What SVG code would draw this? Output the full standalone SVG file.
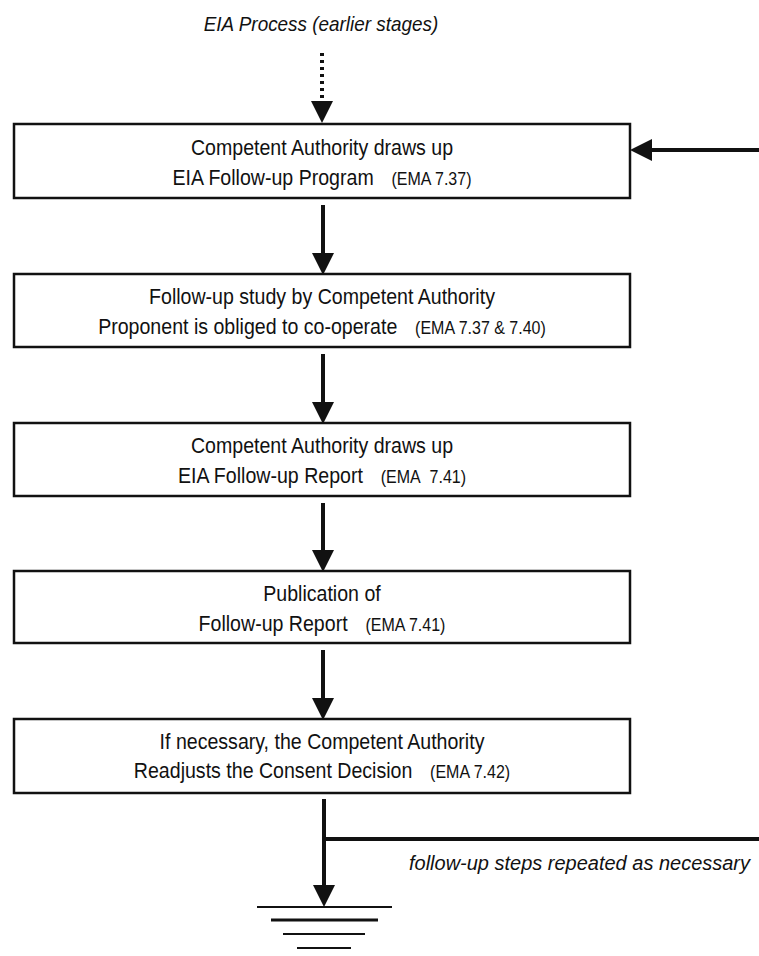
<svg xmlns="http://www.w3.org/2000/svg" width="759" height="956" viewBox="0 0 759 956">
  <style>
    .box { fill: #ffffff; stroke: #111111; stroke-width: 2.5; }
    .t { font-family: "Liberation Sans", Arial, sans-serif; font-size: 22px; fill: #111111; text-anchor: middle; }
    .ema { font-size: 18px; }
    .it { font-family: "Liberation Sans", Arial, sans-serif; font-style: italic; fill: #111111; }
    .conn { stroke: #111111; stroke-width: 4; fill: none; }
    .dot { stroke: #111111; stroke-width: 4; fill: none; stroke-dasharray: 3 4; }
    .gnd { stroke: #111111; fill: none; }
  </style>
  <defs>
    <marker id="ah" markerUnits="userSpaceOnUse" markerWidth="22" markerHeight="24" viewBox="0 -11 21 22" refX="0" refY="0" orient="auto">
      <path d="M0,-10.5 L21,0 L0,10.5 z" fill="#111111"/>
    </marker>
  </defs>
  <rect width="759" height="956" fill="#ffffff"/>

  <g id="title">
    <text class="it" font-size="21" transform="translate(321 0) scale(0.9 1)" x="0" y="31" text-anchor="middle">EIA Process (earlier stages)</text>
  </g>

  <g id="connectors">
    <line class="dot" x1="322" y1="53" x2="322" y2="101" marker-end="url(#ah)"/>
    <line class="conn" x1="759" y1="150" x2="652" y2="150" marker-end="url(#ah)"/>
    <line class="conn" x1="323" y1="205" x2="323" y2="253" marker-end="url(#ah)"/>
    <line class="conn" x1="323" y1="354" x2="323" y2="402" marker-end="url(#ah)"/>
    <line class="conn" x1="323" y1="503" x2="323" y2="550" marker-end="url(#ah)"/>
    <line class="conn" x1="323" y1="650" x2="323" y2="698" marker-end="url(#ah)"/>
    <line class="conn" x1="324" y1="799" x2="324" y2="885" marker-end="url(#ah)"/>
    <line class="conn" x1="322" y1="839" x2="759" y2="839"/>
  </g>

  <g id="node1">
    <rect class="box" x="14" y="124" width="616" height="74"/>
    <text class="t" transform="translate(322 0) scale(0.89 1)" x="0" y="155">Competent Authority draws up</text>
    <text class="t" transform="translate(322 0) scale(0.89 1)" x="0" y="185">EIA Follow-up Program<tspan class="ema" dx="20">(EMA 7.37)</tspan></text>
  </g>

  <g id="node2">
    <rect class="box" x="14" y="274" width="616" height="73"/>
    <text class="t" transform="translate(322 0) scale(0.89 1)" x="0" y="304">Follow-up study by Competent Authority</text>
    <text class="t" transform="translate(322 0) scale(0.89 1)" x="0" y="334">Proponent is obliged to co-operate<tspan class="ema" dx="20">(EMA 7.37 &amp; 7.40)</tspan></text>
  </g>

  <g id="node3">
    <rect class="box" x="14" y="423" width="616" height="73"/>
    <text class="t" transform="translate(322 0) scale(0.89 1)" x="0" y="453">Competent Authority draws up</text>
    <text class="t" transform="translate(322 0) scale(0.89 1)" x="0" y="483">EIA Follow-up Report<tspan class="ema" dx="20">(EMA</tspan><tspan class="ema" dx="10">7.41)</tspan></text>
  </g>

  <g id="node4">
    <rect class="box" x="14" y="571" width="616" height="72"/>
    <text class="t" transform="translate(322 0) scale(0.89 1)" x="0" y="601">Publication of</text>
    <text class="t" transform="translate(322 0) scale(0.89 1)" x="0" y="631">Follow-up Report<tspan class="ema" dx="20">(EMA 7.41)</tspan></text>
  </g>

  <g id="node5">
    <rect class="box" x="14" y="719" width="616" height="74"/>
    <text class="t" transform="translate(322 0) scale(0.89 1)" x="0" y="749">If necessary, the Competent Authority</text>
    <text class="t" transform="translate(322 0) scale(0.89 1)" x="0" y="778">Readjusts the Consent Decision<tspan class="ema" dx="20">(EMA 7.42)</tspan></text>
  </g>

  <g id="repeat-label">
    <text class="it" font-size="20" x="409" y="870" textLength="341" lengthAdjust="spacingAndGlyphs">follow-up steps repeated as necessary</text>
  </g>

  <g id="ground">
    <line class="gnd" stroke-width="2" x1="257" y1="907" x2="392" y2="907"/>
    <line class="gnd" stroke-width="3" x1="271" y1="920" x2="378" y2="920"/>
    <line class="gnd" stroke-width="2" x1="283" y1="934" x2="365" y2="934"/>
    <line class="gnd" stroke-width="2" x1="297" y1="948" x2="351" y2="948"/>
  </g>
</svg>
